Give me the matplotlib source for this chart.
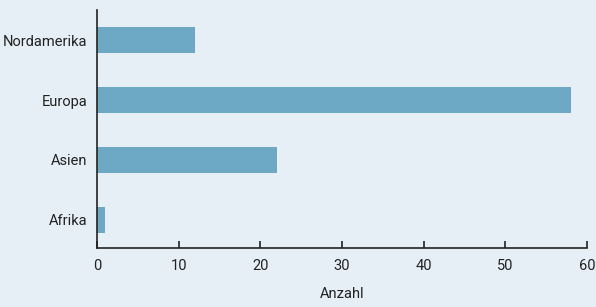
import matplotlib.pyplot as plt

regionen = ["Afrika", "Asien", "Europa", "Nordamerika"]
anzahl = [1, 22, 58, 12]
x_ticks = [0, 10, 20, 30, 40, 50, 60]

plt.rcParams['font.family'] = ['Roboto', 'DejaVu Sans']

bg = "#e7eff6"
fig = plt.figure(figsize=(5.96, 3.07), dpi=100, facecolor=bg)
ax = fig.add_axes([0.163, 0.192, 0.822, 0.775], facecolor=bg)

ax.barh(regionen, anzahl, height=0.43, color="#6da9c4")

ax.set_xlim(0, 60)
ax.set_ylim(-0.47, 3.5)
ax.set_xticks(x_ticks)
ax.set_xlabel("Anzahl", fontsize=10.5, color="#222222", labelpad=10)

for s in ["top", "right"]:
    ax.spines[s].set_visible(False)
for s in ["left", "bottom"]:
    ax.spines[s].set_color("#222222")
    ax.spines[s].set_linewidth(1.2)

ax.tick_params(axis="x", direction="in", length=5, width=1.2, color="#222222",
               labelsize=10.5, labelcolor="#222222", pad=8)
ax.tick_params(axis="y", length=0, labelsize=10.5, labelcolor="#222222", pad=7)

fig.savefig("out.png", dpi=100, facecolor=bg)
